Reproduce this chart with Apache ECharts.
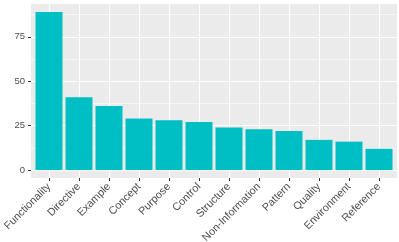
<!DOCTYPE html>
<html><head><meta charset="utf-8">
<script src="https://cdn.jsdelivr.net/npm/echarts@6/dist/echarts.min.js"></script>
<style>html,body{margin:0;padding:0;background:#fff}#c{width:399px;height:242px}</style>
</head><body><div id="c"></div>
<script>
const categories = ["Functionality","Directive","Example","Concept","Purpose","Control","Structure","Non-Information","Pattern","Quality","Environment","Reference"];
const counts = [89, 41, 36, 29, 28, 27, 24, 23, 22, 17, 16, 12];
const yTicks = [0, 25, 50, 75];
const yMinor = [12.5, 37.5, 62.5, 87.5];

const xIdx = categories.map((c, i) => i);
const chart = echarts.init(document.getElementById('c'), null, {renderer: 'canvas'});
const font = 'Liberation Sans, Arial, Helvetica, sans-serif';
chart.setOption({
  animation: false,
  backgroundColor: '#ffffff',
  grid: {left: 31, right: 2, top: 4, bottom: 64, show: true, backgroundColor: '#EBEBEB', borderWidth: 0,
    containLabel: false, outerBoundsMode: 'none'},
  xAxis: {
    type: 'value', min: -0.6, max: 11.6, position: 'bottom',
    axisLine: {show: false, onZero: false},
    axisTick: {show: true, length: 3, lineStyle: {color: '#333333', width: 1}, customValues: xIdx},
    axisLabel: {customValues: xIdx, rotate: 45, margin: 7, color: '#4D4D4D', fontSize: 10.8, fontFamily: font,
      formatter: v => categories[Math.round(v)] || ''},
    splitLine: {show: true, lineStyle: {color: '#ffffff', width: 1.1}, customValues: xIdx}
  },
  yAxis: [{
    type: 'value', min: -4.45, max: 93.45, position: 'left',
    axisLine: {show: false, onZero: false},
    axisTick: {show: true, length: 3, lineStyle: {color: '#333333', width: 1}, customValues: yTicks},
    axisLabel: {customValues: yTicks, margin: 6, color: '#4D4D4D', fontSize: 9.5, fontFamily: font},
    splitLine: {show: true, lineStyle: {color: '#ffffff', width: 1.1}, customValues: yTicks}
  }, {
    type: 'value', min: -4.45, max: 93.45, position: 'left',
    axisLine: {show: false, onZero: false},
    axisTick: {show: false, customValues: yMinor},
    axisLabel: {show: false, customValues: yMinor},
    splitLine: {show: true, lineStyle: {color: '#ffffff', width: 0.55}, customValues: yMinor}
  }],
  series: [{
    type: 'bar', yAxisIndex: 0, barWidth: 27,
    itemStyle: {color: '#00BFC4'},
    data: counts.map((v, i) => [i, v])
  }]
});
</script></body></html>
